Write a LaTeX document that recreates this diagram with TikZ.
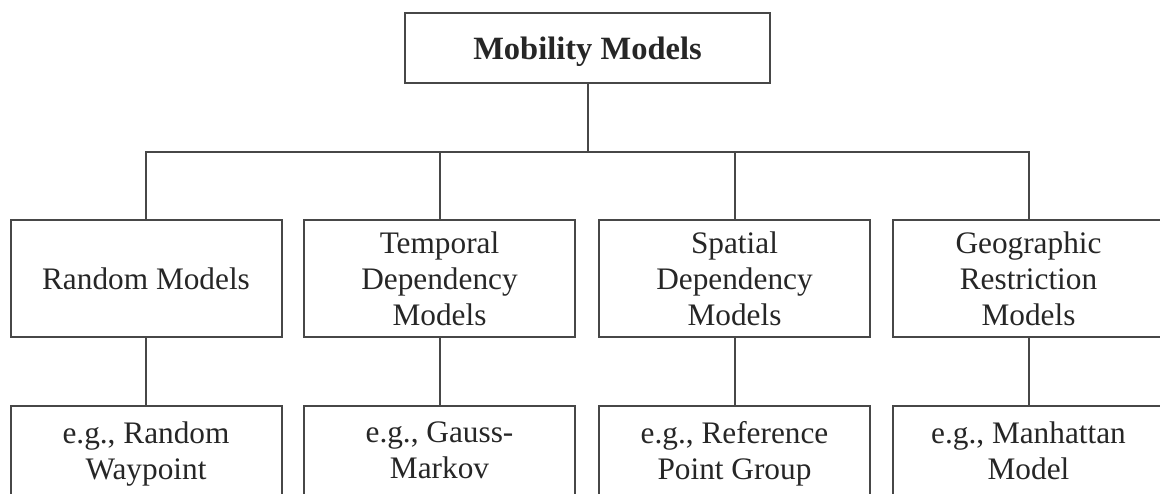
\documentclass[tikz,border=0pt]{standalone}
\usepackage{fontspec}
\setmainfont{Liberation Serif}
\begin{document}
\begin{tikzpicture}[x=1pt,y=1pt,
  line/.style={draw=black!72,line width=2pt},
  box/.style={line,rectangle,inner sep=0pt,minimum width=271pt,minimum height=117pt,
    align=center,text=black!85,text depth=0pt,font=\fontsize{31.3}{36}\selectfont},
  subbox/.style={box,minimum height=89pt},
  topbox/.style={line,rectangle,inner sep=0pt,minimum width=365pt,minimum height=70pt,
    text=black!85,text depth=0pt,font=\fontsize{32.5}{36}\selectfont\bfseries}]
\useasboundingbox (0,0) rectangle (1160,-494);
\clip (0,0) rectangle (1160,-494);
\node[topbox] (top) at (587.5,-48) {Mobility Models};
\coordinate (j) at (587.5,-152);
\node[box] (m1) at (146,-278.5) {Random Models};
\node[box] (m2) at (439.5,-278.5) {Temporal\\Dependency\\Models};
\node[box] (m3) at (734.5,-278.5) {Spatial\\Dependency\\Models};
\node[box] (m4) at (1028.5,-278.5) {Geographic\\Restriction\\Models};
\node[subbox] (e1) at (146,-450.5) {e.g., Random\\Waypoint};
\node[subbox] (e2) at (439.5,-450.5) {e.g., Gauss-\\Markov};
\node[subbox] (e3) at (734.5,-450.5) {e.g., Reference\\Point Group};
\node[subbox] (e4) at (1028.5,-450.5) {e.g., Manhattan\\Model};
\draw[line] (top.south) -- (j);
\foreach \i in {1,2,3,4}{
  \draw[line] (m\i.north) |- (j);
  \draw[line] (m\i.south) -- (e\i.north);
}
\end{tikzpicture}
\end{document}
